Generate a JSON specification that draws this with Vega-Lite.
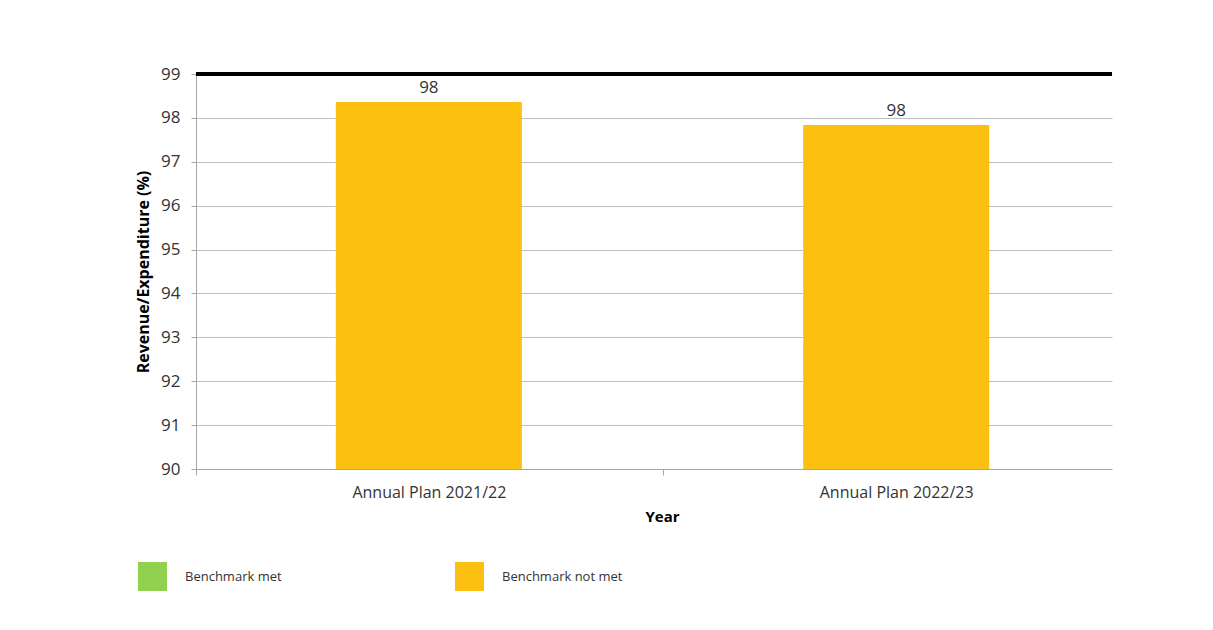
{
  "$schema": "https://vega.github.io/schema/vega-lite/v6.json",
  "autosize": "none",
  "width": 916,
  "height": 395,
  "padding": {"left": 196, "top": 74, "right": 101, "bottom": 161},
  "background": "white",
  "config": {
    "font": "Open Sans",
    "view": {"stroke": null},
    "axis": {"labelFont": "Open Sans", "titleFont": "Open Sans"}
  },
  "data": {
    "values": [
      {"year": "Annual Plan 2021/22", "value": 98.36, "status": "Benchmark not met"},
      {"year": "Annual Plan 2022/23", "value": 97.84, "status": "Benchmark not met"}
    ]
  },
  "layer": [
    {
      "mark": {"type": "bar", "width": 186},
      "encoding": {
        "x": {
          "field": "year", "type": "nominal",
          "scale": {"type": "point", "padding": 0.48, "align": 0.519},
          "axis": {
            "title": "Year", "titleFontSize": 15, "titleFontWeight": "bold", "titleColor": "#000000", "titlePadding": 9,
            "titleX": 466, "titleAlign": "center",
            "labelAngle": 0, "labelFontSize": 16, "labelColor": "#333333", "labelPadding": 9,
            "tickOffset": -233, "labelOffset": 233,
            "tickSize": 6, "tickColor": "#a6a6a6", "domain": false, "grid": false
          }
        },
        "y": {
          "field": "value", "type": "quantitative",
          "scale": {"domain": [90, 99], "nice": false, "zero": false},
          "axis": {
            "title": "Revenue/Expenditure (%)", "titleFontSize": 16, "titleFontWeight": "bold", "titleColor": "#000000", "titlePadding": 9,
            "values": [90, 91, 92, 93, 94, 95, 96, 97, 98, 99],
            "labelFontSize": 17, "labelColor": "#333333", "labelPadding": 11,
            "tickSize": 5, "tickColor": "#a6a6a6", "domainColor": "#a6a6a6",
            "grid": true, "gridWidth": 1,
            "gridColor": {"condition": {"test": "datum.value === 90", "value": "#a6a6a6"}, "value": "#bfbfbf"}
          }
        },
        "y2": {"datum": 90},
        "color": {
          "field": "status", "type": "nominal",
          "scale": {"domain": ["Benchmark met", "Benchmark not met"], "range": ["#92d050", "#fbc012"]},
          "legend": {
            "title": null, "orient": "none", "legendX": -58, "legendY": 488,
            "direction": "horizontal", "columns": 2, "columnPadding": 173,
            "symbolType": "square", "symbolSize": 841, "symbolStrokeWidth": 0,
            "labelFontSize": 13, "labelColor": "#333333", "labelOffset": 18, "padding": 0
          }
        }
      }
    },
    {
      "mark": {"type": "text", "dy": -14, "fontSize": 17, "color": "#333333", "font": "Open Sans"},
      "encoding": {
        "x": {"field": "year", "type": "nominal"},
        "y": {"field": "value", "type": "quantitative"},
        "text": {"field": "value", "type": "quantitative", "format": ".0f"}
      }
    },
    {
      "mark": {"type": "rule", "color": "#000000", "strokeWidth": 4},
      "encoding": {"y": {"datum": 99}}
    }
  ]
}
